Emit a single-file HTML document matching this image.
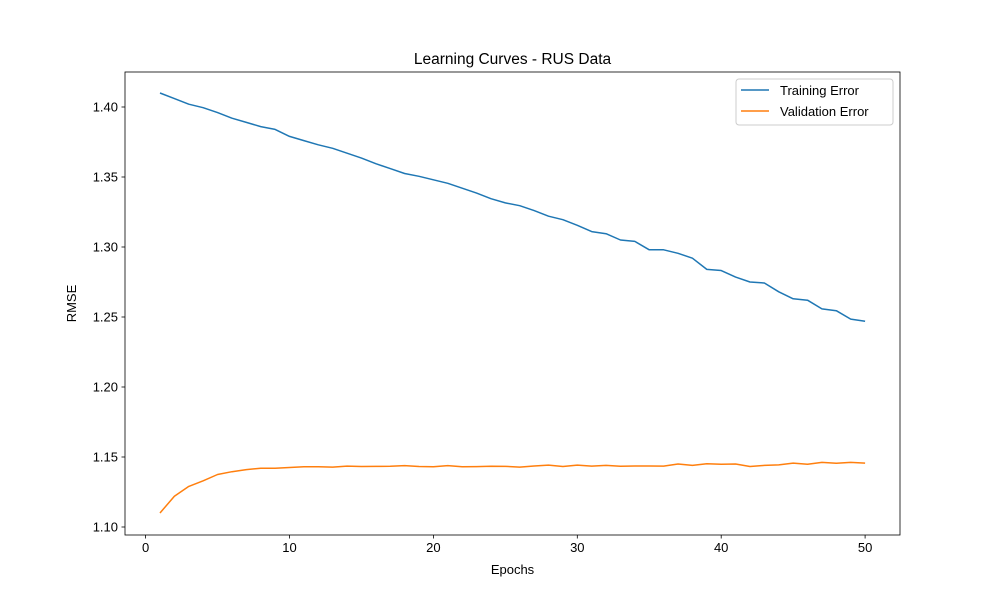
<!DOCTYPE html>
<html><head><meta charset="utf-8"><style>
body{margin:0;background:#fff;font-family:"Liberation Sans","DejaVu Sans",sans-serif}
</style></head><body>
<svg id="c" width="1000" height="600" xmlns="http://www.w3.org/2000/svg"></svg>
<script>
const epochs = Array.from({length:50},(_,i)=>i+1);
const trainErr = [1.410,1.406,1.402,1.3995,1.396,1.392,1.389,1.386,1.384,1.379,1.376,1.373,1.3705,1.367,1.3635,1.3595,1.356,1.3525,1.3505,1.348,1.3455,1.342,1.3385,1.3345,1.3315,1.3295,1.326,1.322,1.3195,1.3155,1.311,1.3095,1.305,1.304,1.298,1.298,1.2955,1.292,1.284,1.2832,1.2785,1.275,1.2743,1.268,1.263,1.262,1.2558,1.2545,1.2485,1.247];
const valErr = [1.110,1.122,1.129,1.133,1.1375,1.1395,1.141,1.142,1.142,1.1425,1.143,1.143,1.1428,1.1435,1.1432,1.1433,1.1434,1.1438,1.1432,1.143,1.1438,1.143,1.1431,1.1434,1.1433,1.1428,1.1436,1.1442,1.1432,1.1442,1.1435,1.144,1.1434,1.1436,1.1436,1.1435,1.145,1.144,1.1452,1.1448,1.145,1.1432,1.144,1.1444,1.1456,1.1448,1.1462,1.1455,1.1462,1.1456];
const xTicks = [0,10,20,30,40,50];
const yTicks = [1.10,1.15,1.20,1.25,1.30,1.35,1.40];
const L=125,R=900,T=72,B=535;
const xs=v=>145.6+v*14.39;
const ys=v=>527-(v-1.10)*1400;
const svg=document.getElementById('c');
const NS='http://www.w3.org/2000/svg';
function mk(tag,attrs,parent){const e=document.createElementNS(NS,tag);for(const k in attrs)e.setAttribute(k,attrs[k]);(parent||svg).appendChild(e);return e;}
const frame=mk('rect',{x:L,y:T,width:R-L,height:B-T,fill:'none',stroke:'#000','stroke-width':0.8});


xTicks.forEach(t=>{
  const x=xs(t);
  const ln=mk('line',{x1:x,x2:x,y1:B,y2:B+3.5,stroke:'#000','stroke-width':0.8});
  
  
  const tx=mk('text',{x:x,y:B+17,'text-anchor':'middle','font-size':13,fill:'#000'});
  tx.textContent=t;
  
  
});
yTicks.forEach(t=>{
  const y=ys(t);
  const ln=mk('line',{x1:L-3.5,x2:L,y1:y,y2:y,stroke:'#000','stroke-width':0.8});
  
  
  const tx=mk('text',{x:L-7,y:y+4.5,'text-anchor':'end','font-size':13,fill:'#000'});
  tx.textContent=t.toFixed(2);
  
  
});
function line(vals,color,name){
  const p=mk('polyline',{points:vals.map((v,i)=>xs(epochs[i])+','+ys(v)).join(' '),fill:'none',stroke:color,'stroke-width':1.5,'stroke-linejoin':'round'});
  
  
}
line(trainErr,'#1f77b4','training-error-line');
line(valErr,'#ff7f0e','validation-error-line');
const title=mk('text',{x:512.5,y:64,'text-anchor':'middle','font-size':15.5});
title.textContent='Learning Curves - RUS Data';


const xl=mk('text',{x:512.5,y:574,'text-anchor':'middle','font-size':13});
xl.textContent='Epochs';


const yl=mk('text',{x:0,y:0,'text-anchor':'middle','font-size':13,transform:'translate(76,303.5) rotate(-90)'});
yl.textContent='RMSE';


const lg=mk('g',{});


mk('rect',{x:736,y:79,width:157,height:46,rx:3,fill:'#fff',stroke:'#ccc','stroke-width':1},lg);
[['Training Error','#1f77b4',90],['Validation Error','#ff7f0e',111]].forEach(([n,c,y])=>{
  const e=mk('g',{},lg);
  
  
  mk('line',{x1:741,x2:769,y1:y,y2:y,stroke:c,'stroke-width':1.5},e);
  const t=mk('text',{x:780,y:y+5,'font-size':13},e);t.textContent=n;
});
</script>
</body></html>
